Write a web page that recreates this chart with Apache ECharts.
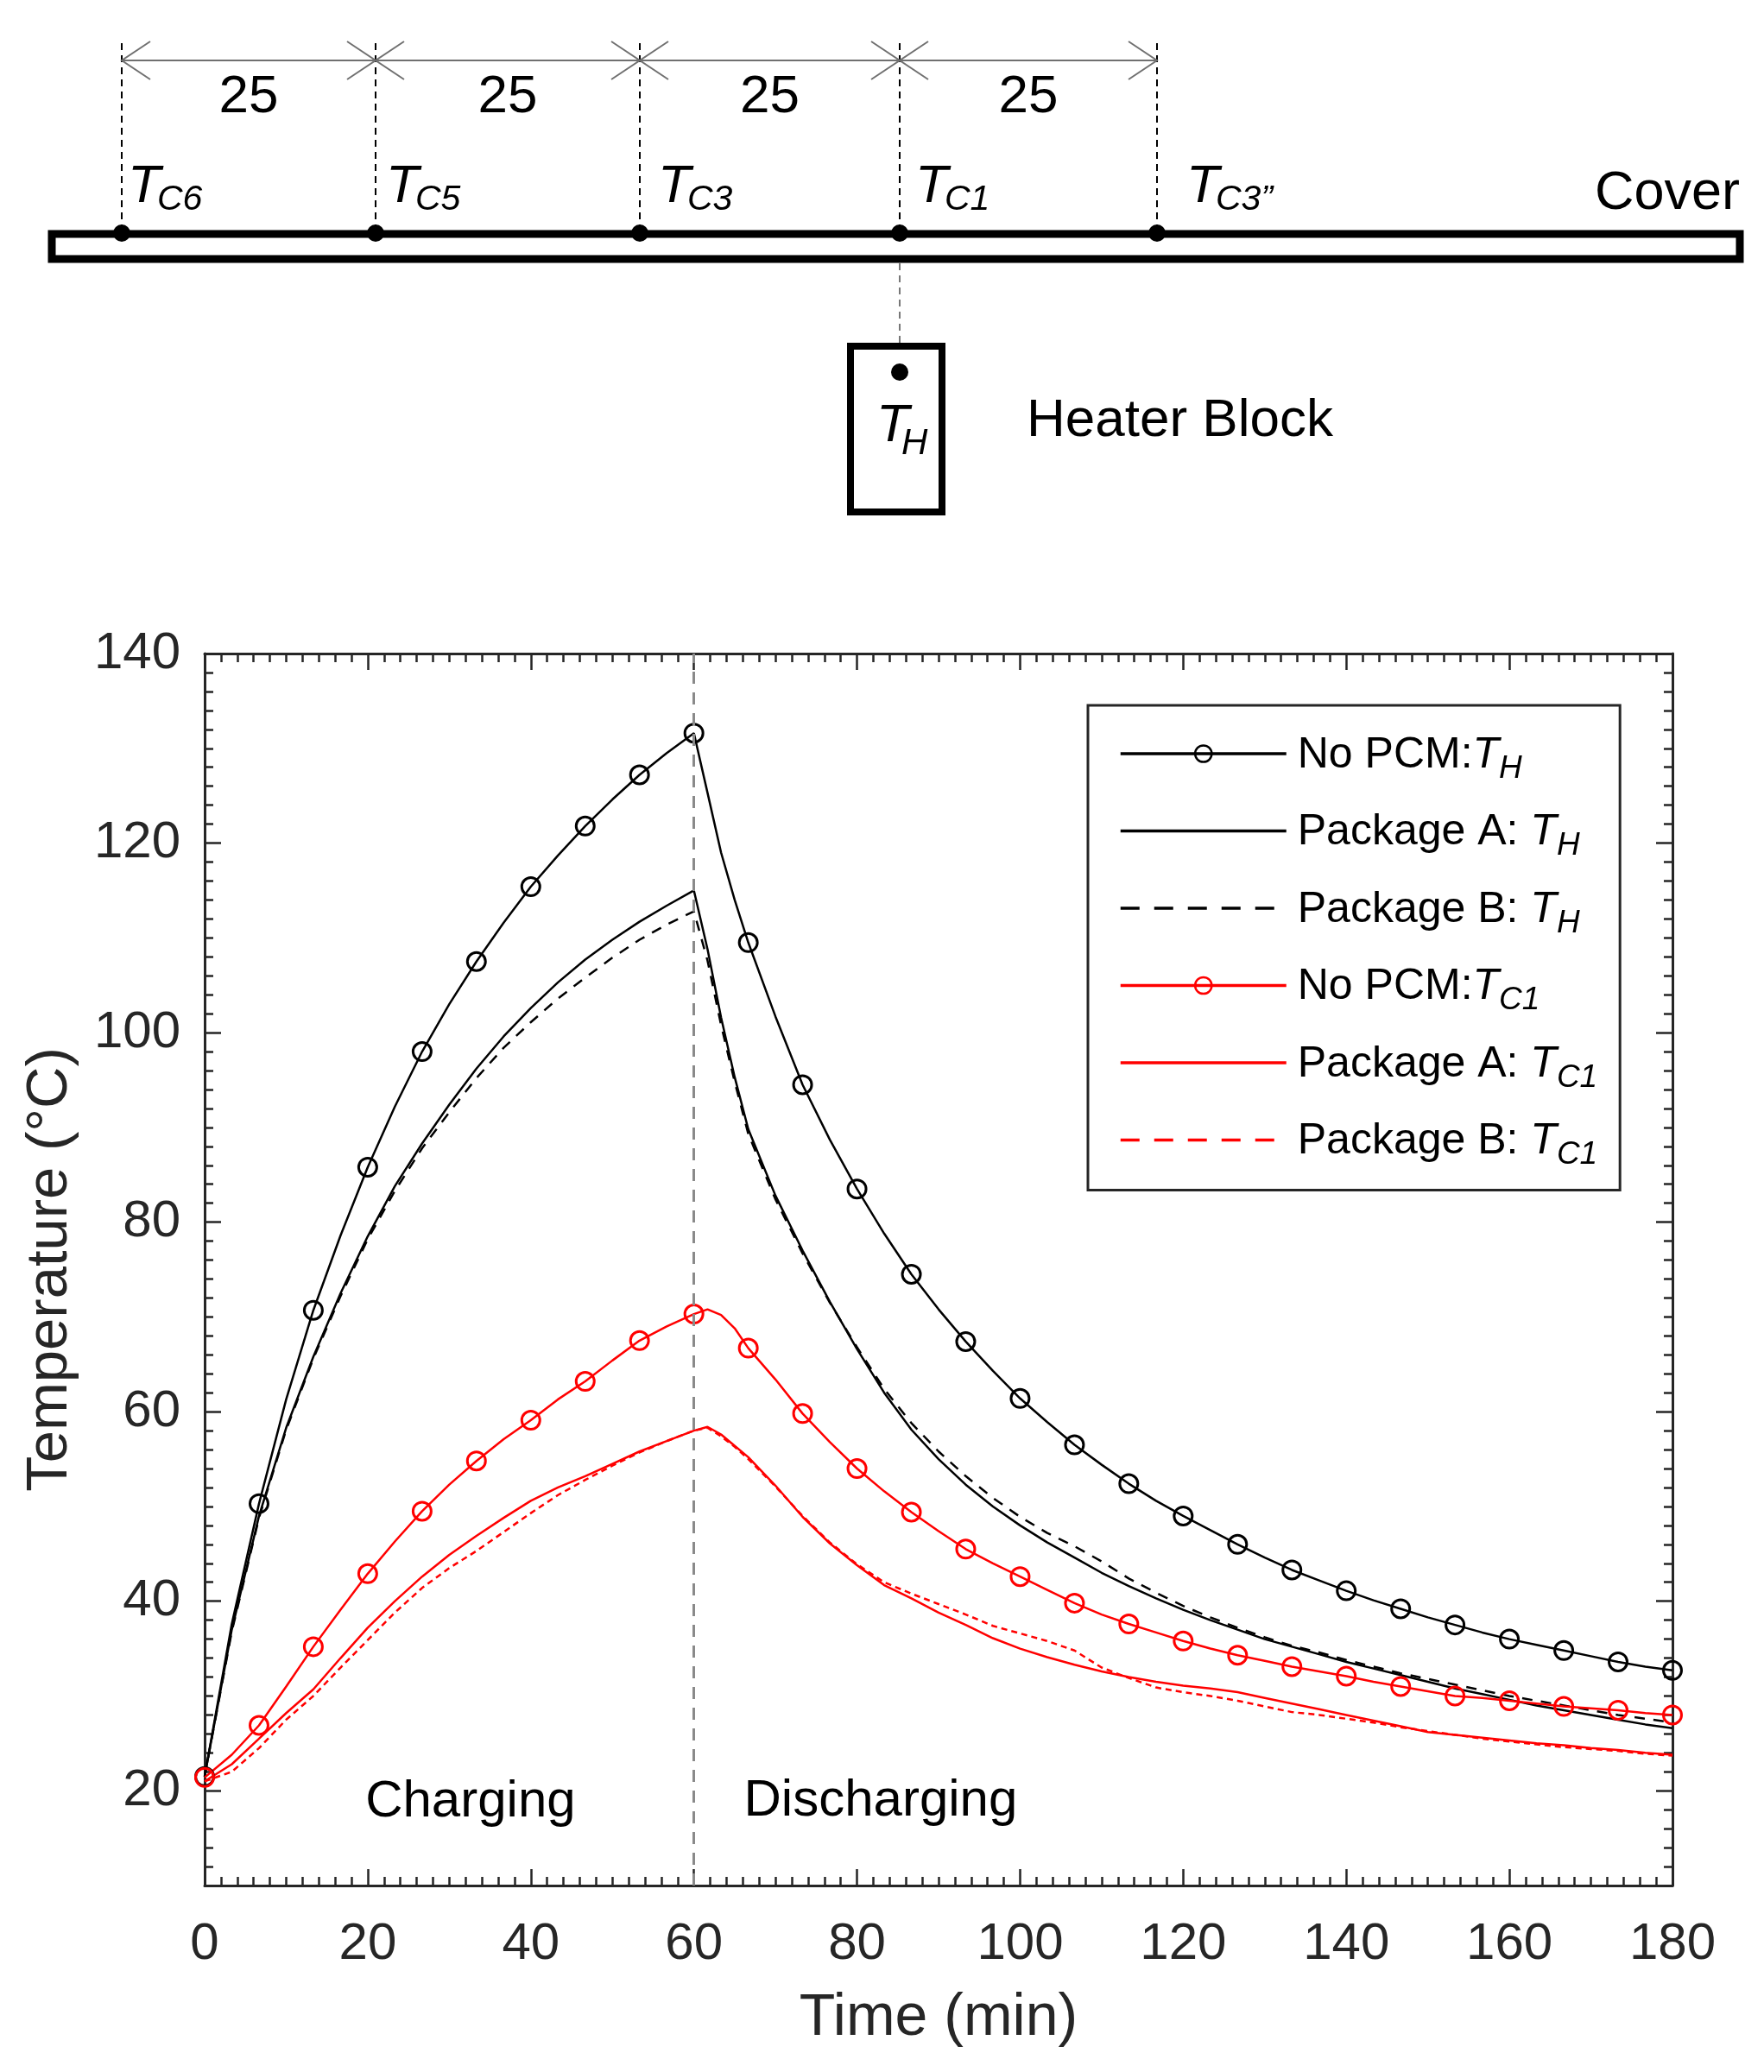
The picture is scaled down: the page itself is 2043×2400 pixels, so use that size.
<!DOCTYPE html>
<html>
<head>
<meta charset="utf-8">
<title>Heater block and cover temperature</title>
<script src="https://cdn.jsdelivr.net/npm/echarts@6/dist/echarts.min.js"></script>
<style>
  html, body { margin: 0; padding: 0; background: #fff; }
  #chart { width: 2043px; height: 2400px; }
</style>
</head>
<body>
<div id="chart"></div>
<script>
  // time grid (min), shared by every curve
  const timeMin = [0, 3.33, 6.67, 10, 13.33, 16.67, 20, 23.33, 26.67, 30, 33.33, 36.67, 40, 43.33, 46.67, 50, 53.33, 56.67, 60,
    61.67, 63.33, 65, 66.67,
    70, 73.33, 76.67, 80, 83.33, 86.67, 90, 93.33, 96.67, 100, 103.33, 106.67, 110, 113.33, 116.67, 120, 123.33, 126.67,
    130, 133.33, 136.67, 140, 143.33, 146.67, 150, 153.33, 156.67, 160, 163.33, 166.67, 170, 173.33, 176.67, 180]

  // heater block T_H
  const noPcmTH = [21.5, 37.6, 50.3, 61.3, 70.7, 78.6, 85.8, 92.2, 98.0, 103.0, 107.5, 111.6, 115.4, 118.7, 121.8, 124.6, 127.2, 129.5, 131.6,
    125.3, 119.0, 114.0, 109.5,
    101.7, 94.5, 88.7, 83.5, 78.8, 74.5, 70.8, 67.4, 64.3, 61.4, 58.9, 56.5, 54.4, 52.4, 50.6, 49.0, 47.5, 46.0,
    44.6, 43.3, 42.2, 41.1, 40.1, 39.2, 38.3, 37.5, 36.7, 36.0, 35.4, 34.8, 34.2, 33.6, 33.1, 32.7]
  const pkgATH = [21.5, 37.0, 49.0, 58.3, 65.8, 72.5, 78.5, 83.8, 88.3, 92.4, 96.2, 99.6, 102.6, 105.3, 107.7, 109.8, 111.7, 113.4, 115.0,
    108.8, 101.6, 95.3, 89.8,
    82.8, 77.0, 71.6, 66.6, 62.0, 58.1, 55.0, 52.3, 50.0, 48.0, 46.2, 44.6, 43.0, 41.6, 40.3, 39.1, 38.0, 37.0,
    36.0, 35.2, 34.4, 33.6, 32.9, 32.2, 31.5, 30.8, 30.2, 29.6, 29.0, 28.5, 28.0, 27.5, 27.0, 26.6]
  const pkgBTH = [21.5, 36.8, 48.8, 58.1, 65.6, 72.2, 78.2, 83.3, 87.8, 91.6, 95.2, 98.4, 101.1, 103.6, 105.8, 107.9, 109.8, 111.4, 112.8,
    107.6, 100.8, 94.8, 89.3,
    82.4, 76.7, 71.5, 66.8, 62.4, 58.8, 55.8, 53.2, 50.9, 48.9, 47.2, 45.8, 44.2, 42.4, 40.9, 39.5, 38.3, 37.2,
    36.2, 35.3, 34.6, 33.8, 33.1, 32.4, 31.8, 31.2, 30.6, 30.0, 29.5, 29.0, 28.5, 28.0, 27.6, 27.2]

  // cover T_C1
  const noPcmTC1 = [21.4, 23.8, 26.9, 31.0, 35.2, 39.1, 42.9, 46.3, 49.5, 52.3, 54.8, 57.1, 59.1, 61.3, 63.2, 65.4, 67.5, 69.0, 70.3,
    70.8, 70.2, 68.8, 66.7,
    63.4, 59.8, 56.8, 54.0, 51.6, 49.4, 47.4, 45.5, 44.0, 42.6, 41.2, 39.8, 38.6, 37.6, 36.7, 35.8, 35.0, 34.3,
    33.7, 33.1, 32.6, 32.1, 31.5, 31.0, 30.5, 30.0, 29.8, 29.5, 29.2, 28.9, 28.7, 28.5, 28.2, 28.0]
  const pkgATC1 = [21.0, 22.8, 25.5, 28.2, 30.7, 34.0, 37.2, 40.0, 42.6, 44.9, 46.9, 48.8, 50.6, 52.0, 53.2, 54.5, 55.8, 56.9, 58.0,
    58.4, 57.6, 56.4, 55.2,
    52.2, 48.9, 46.1, 43.8, 41.7, 40.3, 38.8, 37.5, 36.1, 35.0, 34.1, 33.3, 32.6, 32.0, 31.5, 31.1, 30.8, 30.4,
    29.8, 29.2, 28.6, 28.0, 27.4, 26.8, 26.2, 25.9, 25.6, 25.3, 25.0, 24.8, 24.5, 24.3, 24.0, 23.8]
  const pkgBTC1 = [21.0, 22.0, 24.5, 27.5, 30.0, 33.0, 35.9, 38.8, 41.4, 43.5, 45.3, 47.3, 49.3, 51.2, 52.8, 54.3, 55.7, 56.9, 58.0,
    58.3, 57.4, 56.3, 55.0,
    52.1, 49.0, 46.2, 43.9, 42.0, 40.8, 39.7, 38.6, 37.4, 36.6, 35.8, 34.8, 33.0, 31.9, 30.9, 30.4, 30.0, 29.5,
    28.9, 28.3, 28.0, 27.6, 27.2, 26.7, 26.3, 25.9, 25.5, 25.2, 24.9, 24.6, 24.4, 24.2, 23.9, 23.7]

  const phaseSwitchMin = 60
  const yLabelValues = [20, 40, 60, 80, 100, 120, 140]
  const sensorNames = ['C6', 'C5', 'C3', 'C1', 'C3\u201D']
  const sensorSpacing = [25, 25, 25, 25]

  const fam = '"Liberation Sans", Arial, Helvetica, sans-serif'
  const axisColor = '#262626'
  const black = '#000000'
  const red = '#ff0000'

  // circles every 20/3 min on the No PCM curves
  const isMarkerTime = t => Math.abs(t * 3 / 20 - Math.round(t * 3 / 20)) < 0.01
  const toPoints = (values, withMarkers) => timeMin.map((t, i) => {
    const item = { value: [t, values[i]] }
    if (withMarkers && !isMarkerTime(t)) item.symbol = 'none'
    return item
  })

  const curves = [
    { name: 'No PCM: TH', values: noPcmTH, color: black, marker: true, dash: 'solid', label: '{n|No PCM:}{t|T}{s|H}' },
    { name: 'Package A: TH', values: pkgATH, color: black, marker: false, dash: 'solid', label: '{n|Package A: }{t|T}{s|H}' },
    { name: 'Package B: TH', values: pkgBTH, color: black, marker: false, dash: [12, 10], label: '{n|Package B: }{t|T}{s|H}' },
    { name: 'No PCM: TC1', values: noPcmTC1, color: red, marker: true, dash: 'solid', label: '{n|No PCM:}{t|T}{s|C1}' },
    { name: 'Package A: TC1', values: pkgATC1, color: red, marker: false, dash: 'solid', label: '{n|Package A: }{t|T}{s|C1}' },
    { name: 'Package B: TC1', values: pkgBTC1, color: red, marker: false, dash: [7, 5], label: '{n|Package B: }{t|T}{s|C1}' },
  ]

  const series = curves.map((c, i) => {
    const s = {
      name: c.name,
      type: 'line',
      data: toPoints(c.values, c.marker),
      symbol: c.marker ? 'circle' : 'none',
      symbolSize: 21,
      itemStyle: { color: 'rgba(0,0,0,0)', borderColor: c.color, borderWidth: 3 },
      lineStyle: { color: c.color, width: 2.5, type: c.dash },
      emphasis: { disabled: true },
      z: 3,
    }
    if (i === 0) {
      s.markLine = {
        silent: true,
        symbol: ['none', 'none'],
        label: { show: false },
        lineStyle: { color: '#8a8a8a', width: 3, type: [14, 10] },
        data: [{ xAxis: phaseSwitchMin }],
      }
      s.markPoint = {
        symbol: 'circle',
        symbolSize: 1,
        itemStyle: { color: 'rgba(0,0,0,0)' },
        label: { show: true, position: 'inside', formatter: '{b}', fontSize: 60, color: '#000', fontFamily: fam },
        data: [
          { name: 'Charging', coord: [32.6, 18.8] },
          { name: 'Discharging', coord: [82.9, 18.9] },
        ],
      }
    }
    return s
  })

  const xBase = {
    type: 'value', min: 0, max: 180, interval: 20,
    axisLine: { show: true, onZero: false, lineStyle: { color: axisColor, width: 3 } },
    axisTick: { show: true, inside: true, length: 19, lineStyle: { color: axisColor, width: 2.5 } },
    minorTick: { show: true, splitNumber: 10, length: 10, lineStyle: { color: axisColor, width: 2.5 } },
    splitLine: { show: false },
    minorSplitLine: { show: false },
  }
  const yBase = {
    type: 'value', min: 10, max: 140, interval: 2,
    axisLine: { show: true, onZero: false, lineStyle: { color: axisColor, width: 3 } },
    axisTick: { show: true, inside: true, length: 10, lineStyle: { color: axisColor, width: 2.5 } },
    axisLabel: { show: false },
    splitLine: { show: false },
  }
  const yMajor = (position) => Object.assign({}, yBase, {
    position,
    axisLine: { show: false, onZero: false },
    axisTick: { show: true, inside: true, length: 19, customValues: yLabelValues, lineStyle: { color: axisColor, width: 2.5 } },
  })

  const buildDiagram = () => {
    const els = []
    const ink = '#000'
    const sensorX = [141, 435, 741, 1042, 1340]
    const labelX = [148, 447, 762, 1060, 1374]
    const dimY = 70
    els.push({ type: 'rect', shape: { x: 60, y: 271, width: 1955, height: 29 }, style: { fill: '#fff', stroke: ink, lineWidth: 9 } })
    sensorX.forEach((x, i) => {
      els.push({ type: 'line', shape: { x1: x, y1: 50, x2: x, y2: 268 }, style: { stroke: ink, lineWidth: 2, lineDash: [8, 6] } })
      els.push({ type: 'circle', shape: { cx: x, cy: 270, r: 10 }, style: { fill: ink }, z: 10 })
      els.push({ type: 'text', x: labelX[i], y: 217, style: { text: 'T', font: 'italic 62px ' + fam, fill: ink, verticalAlign: 'middle' } })
      els.push({ type: 'text', x: labelX[i] + 34, y: 232, style: { text: sensorNames[i], font: 'italic 41px ' + fam, fill: ink, verticalAlign: 'middle' } })
    })
    sensorSpacing.forEach((d, i) => {
      const a = sensorX[i], b = sensorX[i + 1]
      const st = { stroke: '#707070', lineWidth: 2, fill: null }
      els.push({ type: 'line', shape: { x1: a, y1: dimY, x2: b, y2: dimY }, style: st })
      els.push({ type: 'polyline', shape: { points: [[a + 33, dimY - 22], [a, dimY], [a + 33, dimY + 22]] }, style: st })
      els.push({ type: 'polyline', shape: { points: [[b - 33, dimY - 22], [b, dimY], [b - 33, dimY + 22]] }, style: st })
      els.push({ type: 'text', x: (a + b) / 2, y: 113, style: { text: String(d), font: '62px ' + fam, fill: ink, align: 'center', verticalAlign: 'middle' } })
    })
    els.push({ type: 'text', x: 2015, y: 225, style: { text: 'Cover', font: '63px ' + fam, fill: ink, align: 'right', verticalAlign: 'middle' } })
    // heater block
    els.push({ type: 'line', shape: { x1: 1042, y1: 305, x2: 1042, y2: 397 }, style: { stroke: '#777', lineWidth: 2, lineDash: [8, 6] } })
    els.push({ type: 'rect', shape: { x: 985, y: 401, width: 106, height: 192 }, style: { fill: '#fff', stroke: ink, lineWidth: 8 } })
    els.push({ type: 'circle', shape: { cx: 1042, cy: 431, r: 10 }, style: { fill: ink }, z: 10 })
    els.push({ type: 'text', x: 1015, y: 494, style: { text: 'T', font: 'italic 62px ' + fam, fill: ink, verticalAlign: 'middle' } })
    els.push({ type: 'text', x: 1044, y: 514, style: { text: 'H', font: 'italic 42px ' + fam, fill: ink, verticalAlign: 'middle' } })
    els.push({ type: 'text', x: 1189, y: 488, style: { text: 'Heater Block', font: '62px ' + fam, fill: ink, verticalAlign: 'middle' } })
    return els
  }

  const labelOf = {}
  curves.forEach(c => { labelOf[c.name] = c.label })

  const chart = echarts.init(document.getElementById('chart'), null, { renderer: 'canvas' })
  const option = {
    animation: false,
    backgroundColor: '#fff',
    textStyle: { fontFamily: fam },
    grid: { left: 237, top: 757, width: 1700, height: 1427 },
    xAxis: [
      Object.assign({}, xBase, {
        position: 'bottom',
        axisLabel: { show: true, margin: 38, fontSize: 60, color: axisColor, fontFamily: fam },
        name: 'Time (min)', nameLocation: 'middle', nameGap: 120,
        nameTextStyle: { fontSize: 68, color: axisColor, fontFamily: fam },
      }),
      Object.assign({}, xBase, { position: 'top', axisLabel: { show: false } }),
    ],
    yAxis: [
      Object.assign({}, yBase, {
        position: 'left',
        axisLabel: { show: true, customValues: yLabelValues, margin: 28, fontSize: 60, color: axisColor, fontFamily: fam },
        name: 'Temperature (°C)', nameLocation: 'middle', nameGap: 145,
        nameTextStyle: { fontSize: 67, color: axisColor, fontFamily: fam },
      }),
      yMajor('left'),
      Object.assign({}, yBase, { position: 'right' }),
      yMajor('right'),
    ],
    legend: {
      orient: 'vertical',
      left: 1260,
      top: 817,
      padding: [20, 26, 22, 36],
      itemWidth: 192,
      itemHeight: 24,
      itemGap: 17.5,
      selectedMode: false,
      backgroundColor: '#fff',
      borderColor: axisColor,
      borderWidth: 3,
      borderRadius: 0,
      formatter: name => labelOf[name],
      textStyle: {
        color: '#000',
        fontFamily: fam,
        rich: {
          n: { fontSize: 50, lineHeight: 46, verticalAlign: 'top', padding: [0, 0, 0, 8], color: '#000', fontFamily: fam },
          t: { fontSize: 50, lineHeight: 46, verticalAlign: 'top', fontStyle: 'italic', color: '#000', fontFamily: fam },
          s: { fontSize: 37, lineHeight: 30, padding: [35, 0, 0, 0], fontStyle: 'italic', color: '#000', fontFamily: fam },
        },
      },
      data: curves.map(c => ({
        name: c.name,
        itemStyle: c.marker
          ? { color: 'rgba(0,0,0,0)', borderColor: c.color, borderWidth: 2.5 }
          : { opacity: 0 },
        lineStyle: { color: c.color, width: 3.5, type: c.dash === 'solid' ? 'solid' : [22, 17] },
      })),
    },
    graphic: { elements: buildDiagram() },
    series,
  }
  chart.setOption(option)
</script>
</body>
</html>
